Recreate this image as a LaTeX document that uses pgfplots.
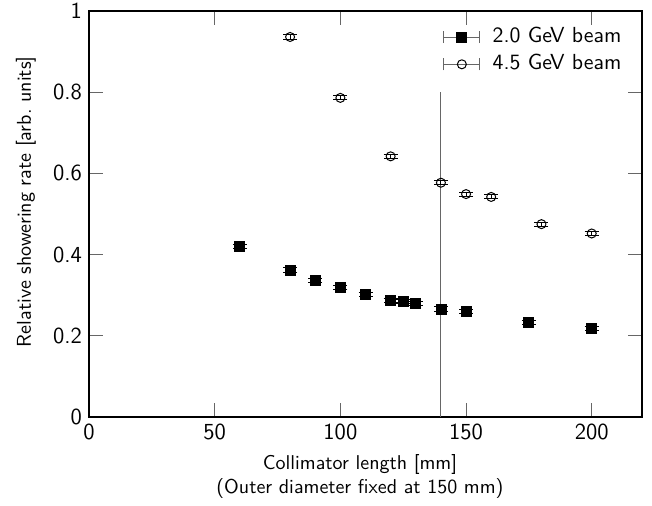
\documentclass[border=0pt]{standalone}
\usepackage{pgfplots}
\pgfplotsset{compat=1.18}
\renewcommand{\familydefault}{\sfdefault}

\pgfplotstableread{
x    y      e
60   0.421  0.005
80   0.362  0.005
90   0.336  0.005
100  0.320  0.005
110  0.302  0.005
120  0.288  0.005
125  0.285  0.005
130  0.279  0.005
140  0.266  0.005
150  0.259  0.005
175  0.232  0.005
200  0.219  0.005
}\lowbeam

\pgfplotstableread{
x    y      e
80   0.936  0.005
100  0.786  0.005
120  0.642  0.005
140  0.577  0.005
150  0.549  0.005
160  0.542  0.005
180  0.475  0.005
200  0.452  0.005
}\highbeam

\begin{document}
\begin{tikzpicture}
\begin{axis}[
    name=main,
    scale only axis,
    width=276.5pt, height=203pt,
    xmin=0, xmax=220, ymin=0, ymax=1,
    xtick={0,50,100,150,200},
    ytick={0,0.2,0.4,0.6,0.8,1},
    tick align=inside,
    tick pos=both,
    major tick length=7pt,
    tick style={black!60, line width=0.5pt},
    axis line style={line width=0.6pt},
    /pgf/number format/assume math mode=true,
    tick label style={font=\fontsize{11.5}{12}\selectfont},
    label style={font=\fontsize{11}{14}\selectfont},
    xlabel={Collimator length [mm]\\(Outer diameter fixed at 150 mm)},
    every axis x label/.style={at={(axis description cs:0.49,-0.074)}, anchor=north, align=center},
    ylabel={Relative showering rate [arb.\ units]},
    every axis y label/.style={at={(axis description cs:-0.114,0.53)}, rotate=90, anchor=center},
    legend style={draw=none, fill=none, at={(0.982,0.98)}, anchor=north east,
        font=\fontsize{10.9}{13}\selectfont, row sep=0pt,
        nodes={inner sep=2.15pt, text height=7.4pt, text depth=1.9pt},
        /tikz/every odd column/.append style={column sep=4pt}},
    legend cell align=left,
    legend image code/.code={
        \draw[black!60, line width=0.5pt] (0pt,-3pt) -- (0pt,3pt)
            (0pt,0pt) -- (18pt,0pt) (18pt,-3pt) -- (18pt,3pt);
        \draw[mark repeat=2, mark phase=2, #1] plot coordinates {(0pt,0pt) (9pt,0pt) (18pt,0pt)};
    },
]
\addplot[black!60, line width=0.5pt, no marks, forget plot] coordinates {(140,0) (140,0.8)};
\addplot[only marks, mark=square*, mark size=2.5pt, black,
    error bars/.cd, y dir=both, y explicit,
    error bar style={black, line width=0.5pt},
    error mark options={rotate=90, black, mark size=3.5pt, line width=0.5pt}]
    table[x=x, y=y, y error=e] {\lowbeam};
\addplot[only marks, mark=o, mark size=2.25pt, black, mark options={line width=0.5pt},
    error bars/.cd, y dir=both, y explicit,
    error bar style={black, line width=0.5pt},
    error mark options={rotate=90, black, mark size=3.5pt, line width=0.5pt}]
    table[x=x, y=y, y error=e] {\highbeam};
\legend{2.0 GeV beam, 4.5 GeV beam}
\end{axis}
\pgfresetboundingbox
\path (main.south west) ++(-44.5pt,-44.5pt) rectangle ([shift={(5pt,5.5pt)}]main.north east);
\end{tikzpicture}
\end{document}
